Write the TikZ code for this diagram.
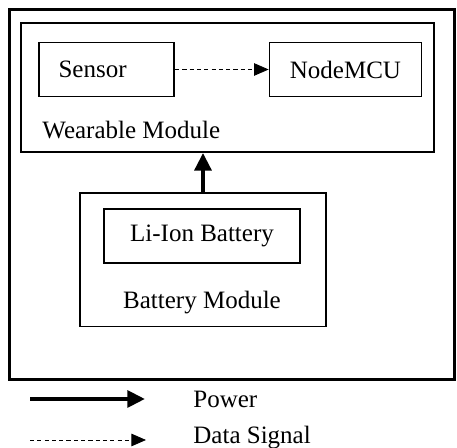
\documentclass[tikz,border=0pt]{standalone}
\usepackage{fontspec}
\setmainfont{Liberation Serif}
\usetikzlibrary{arrows.meta}

\begin{document}
\begin{tikzpicture}[x=0.48pt,y=-0.48pt,
  box/.style={draw,thick,inner sep=0pt,font=\fontsize{12}{14}\selectfont},
  lbl/.style={inner sep=0pt,font=\fontsize{12}{14}\selectfont},
  power/.style={-{Triangle[length=8.5pt,width=8pt]},line width=2pt},
  data/.style={-{Triangle[length=7pt,width=6pt]},thin,dash pattern=on 2pt off 1.5pt}]
\useasboundingbox (0,0) rectangle (457,448);
\node at (232,194.5)[draw,line width=1.5pt,minimum width=214pt,minimum height=178pt] (Sys) {};
\node at (227.5,87.5)[box,minimum width=198pt,minimum height=62pt] (Wear) {};
\node at (106.5,69.5)[box,minimum width=65pt,minimum height=26pt] (Sens) {\makebox[34pt][l]{Sensor}\kern12pt};
\node at (345.5,69.5)[box,minimum width=73pt,minimum height=26pt] (MCU) {NodeMCU};
\node at (42,130)[lbl,anchor=west] (WearL) {Wearable Module};
\node at (203,260)[box,minimum width=118pt,minimum height=64pt] (Batt) {};
\node at (202,236)[box,minimum width=94pt,minimum height=26pt] (Li) {Li-Ion Battery};
\node at (202,303)[lbl] (BattL) {Battery Module};
\coordinate (Pa) at (30,399);
\coordinate (Pb) at (145,399);
\node at (193,399)[lbl,anchor=west] (PowL) {Power};
\coordinate (Da) at (30,440);
\coordinate (Db) at (146,440);
\node at (193,438)[lbl,anchor=west] (DatL) {Data Signal};
\draw[data] (Sens) -- (MCU);
\draw[power] (Batt.north) -- (Batt.north |- Wear.south);
\draw[power] (Pa) -- (Pb);
\draw[data] (Da) -- (Db);
\end{tikzpicture}
\end{document}
